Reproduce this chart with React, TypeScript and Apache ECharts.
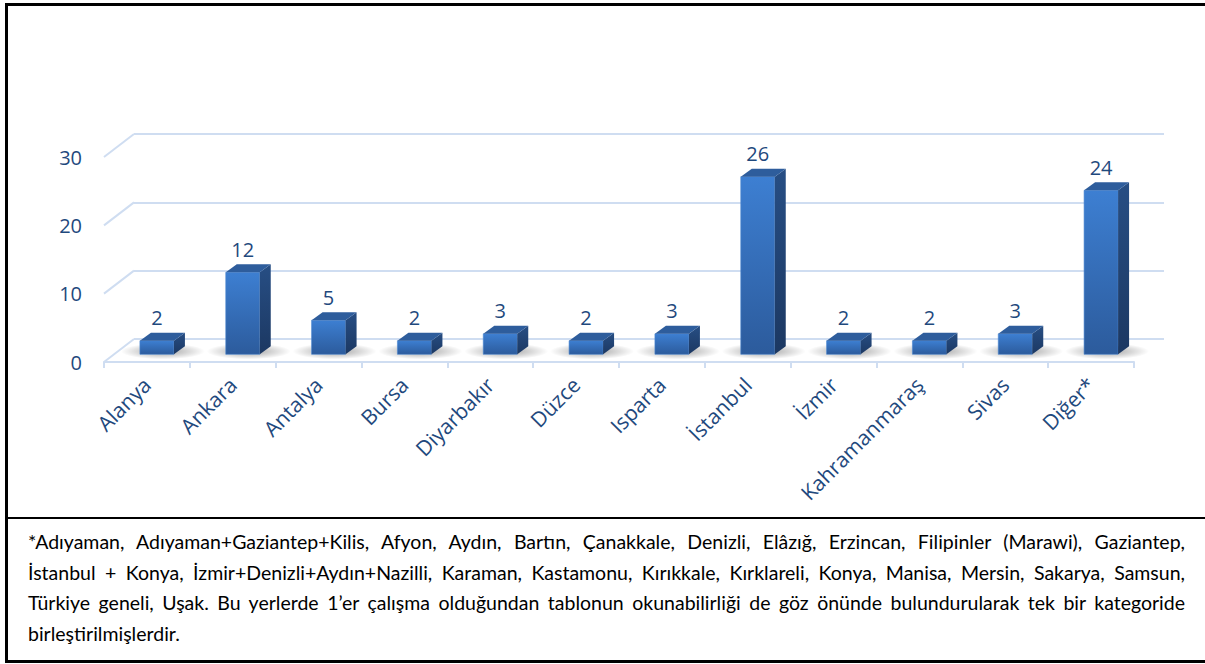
import React, { useEffect, useRef } from "react";
import * as echarts from "echarts";

const categories = ["Alanya", "Ankara", "Antalya", "Bursa", "Diyarbakır", "Düzce", "Isparta", "İstanbul", "İzmir", "Kahramanmaraş", "Sivas", "Diğer*"];
const values = [2, 12, 5, 2, 3, 2, 3, 26, 2, 2, 3, 24];
const yTicks = [0, 10, 20, 30];
const footnoteLines = [
  "*Adıyaman, Adıyaman+Gaziantep+Kilis, Afyon, Aydın, Bartın, Çanakkale, Denizli, Elâzığ, Erzincan, Filipinler (Marawi), Gaziantep,",
  "İstanbul + Konya, İzmir+Denizli+Aydın+Nazilli, Karaman, Kastamonu, Kırıkkale, Kırklareli, Konya, Manisa, Mersin, Sakarya, Samsun,",
  "Türkiye geneli, Uşak. Bu yerlerde 1’er çalışma olduğundan tablonun okunabilirliği de göz önünde bulundurularak tek bir kategoride",
  "birleştirilmişlerdir.",
];

const TEXT = "#1F497D";
const GRID = "#CFDDF1";
const FONT = "'Open Sans', 'Noto Sans', sans-serif";
const DEPTH_X = 30;
const DEPTH_Y = -23;

export default function App() {
  const ref = useRef<HTMLDivElement>(null);
  useEffect(() => {
    document.body.style.margin = "0";
    if (!ref.current) return;
    const chart = echarts.init(ref.current, undefined, { renderer: "svg" });
    const front = new echarts.graphic.LinearGradient(0, 0, 0, 1, [
      { offset: 0, color: "#3D7FD2" },
      { offset: 1, color: "#2C5B9C" },
    ]);
    const side = new echarts.graphic.LinearGradient(0, 0, 0, 1, [
      { offset: 0, color: "#274E84" },
      { offset: 1, color: "#1C3862" },
    ]);
    const shadow = new echarts.graphic.RadialGradient(0.5, 0.5, 0.5, [
      { offset: 0, color: "rgba(0,0,0,0.38)" },
      { offset: 1, color: "rgba(0,0,0,0)" },
    ]);
    chart.setOption({
      animation: false,
      grid: [
        { left: 104, top: 157, width: 1030, height: 205 },
        { left: 104 + DEPTH_X, top: 157 + DEPTH_Y, width: 1030, height: 205 },
      ],
      xAxis: [
        {
          type: "category",
          gridIndex: 0,
          data: categories,
          axisLine: { lineStyle: { color: GRID, width: 2 } },
          axisTick: { show: true, length: 6, lineStyle: { color: GRID, width: 2 } },
          axisLabel: { interval: 0, rotate: 45, margin: 19, fontSize: 21, color: TEXT, fontFamily: FONT },
        },
        { type: "category", gridIndex: 1, data: categories, show: false },
      ],
      yAxis: [
        {
          type: "value",
          gridIndex: 0,
          min: 0,
          max: 30,
          interval: 10,
          axisLine: { show: false },
          axisTick: { show: false },
          splitLine: { show: false },
          axisLabel: { margin: 22, fontSize: 20, color: TEXT, fontFamily: FONT },
        },
        {
          type: "value",
          gridIndex: 1,
          min: 0,
          max: 30,
          interval: 10,
          axisLine: { show: false },
          axisTick: { show: false },
          axisLabel: { show: false },
          splitLine: { show: true, lineStyle: { color: GRID, width: 2 } },
        },
      ],
      series: [
        {
          type: "custom",
          xAxisIndex: 0,
          yAxisIndex: 0,
          clip: false,
          silent: true,
          data: yTicks.map((t) => [0, t]),
          renderItem: (params: any, api: any) => {
            const p = api.coord([0, api.value(1)]);
            const bw = api.size([1, 0])[0];
            const x = p[0] - bw / 2;
            return {
              type: "line",
              shape: { x1: x, y1: p[1], x2: x + DEPTH_X, y2: p[1] + DEPTH_Y },
              style: { stroke: GRID, lineWidth: 2 },
            };
          },
        },
        {
          type: "custom",
          xAxisIndex: 0,
          yAxisIndex: 0,
          clip: false,
          data: categories.map((c, i) => [i, values[i]]),
          renderItem: (params: any, api: any) => {
            const i = api.value(0);
            const v = api.value(1);
            const base = api.coord([i, 0]);
            const top = api.coord([i, v]);
            const cx = base[0] + DEPTH_X / 3;
            const w = 34;
            const dX = 11;
            const dY = -8;
            const x0 = cx - w / 2;
            const x1 = cx + w / 2;
            const yb = base[1] + DEPTH_Y / 3;
            const yt = top[1] + DEPTH_Y / 3;
            return {
              type: "group",
              children: [
                {
                  type: "ellipse",
                  shape: { cx: cx + 6, cy: yb - 3, rx: 42, ry: 8 },
                  style: { fill: shadow },
                },
                {
                  type: "rect",
                  shape: { x: x0, y: yt, width: w, height: yb - yt },
                  style: { fill: front, stroke: "#4A86D0", lineWidth: 0.6 },
                },
                {
                  type: "polygon",
                  shape: { points: [[x1, yt], [x1 + dX, yt + dY], [x1 + dX, yb + dY], [x1, yb]] },
                  style: { fill: side },
                },
                {
                  type: "polygon",
                  shape: { points: [[x0, yt], [x0 + dX, yt + dY], [x1 + dX, yt + dY], [x1, yt]] },
                  style: { fill: "#2E5D9C" },
                },
                {
                  type: "text",
                  style: {
                    x: cx,
                    y: yt - 13,
                    text: String(v),
                    fill: TEXT,
                    fontSize: 20,
                    fontFamily: FONT,
                    align: "center",
                    verticalAlign: "bottom",
                  },
                },
              ],
            };
          },
        },
      ],
    });
    return () => chart.dispose();
  }, []);

  return (
    <div style={{ position: "relative", width: 1205, height: 664, background: "#fff", overflow: "hidden" }}>
      <div ref={ref} style={{ position: "absolute", left: 0, top: 0, width: 1205, height: 517 }} />
      <div style={{ position: "absolute", left: 5, top: 3, width: 1200, height: 3, background: "#000" }} />
      <div style={{ position: "absolute", left: 5, top: 3, width: 3, height: 660, background: "#000" }} />
      <div style={{ position: "absolute", left: 5, top: 660, width: 1200, height: 3, background: "#000" }} />
      <div style={{ position: "absolute", left: 5, top: 517, width: 1200, height: 2, background: "#000" }} />
      <div
        style={{
          position: "absolute",
          left: 28,
          top: 527,
          width: 1157,
          fontFamily: "Lato, 'Open Sans', sans-serif",
          fontSize: 19.5,
          lineHeight: "30.5px",
          color: "#000",
        }}
      >
        {footnoteLines.map((l, i) => (
          <div
            key={i}
            style={{
              textAlign: i < footnoteLines.length - 1 ? "justify" : "left",
              textAlignLast: i < footnoteLines.length - 1 ? "justify" : "left",
              whiteSpace: "nowrap",
            }}
          >
            {l}
          </div>
        ))}
      </div>
    </div>
  );
}
